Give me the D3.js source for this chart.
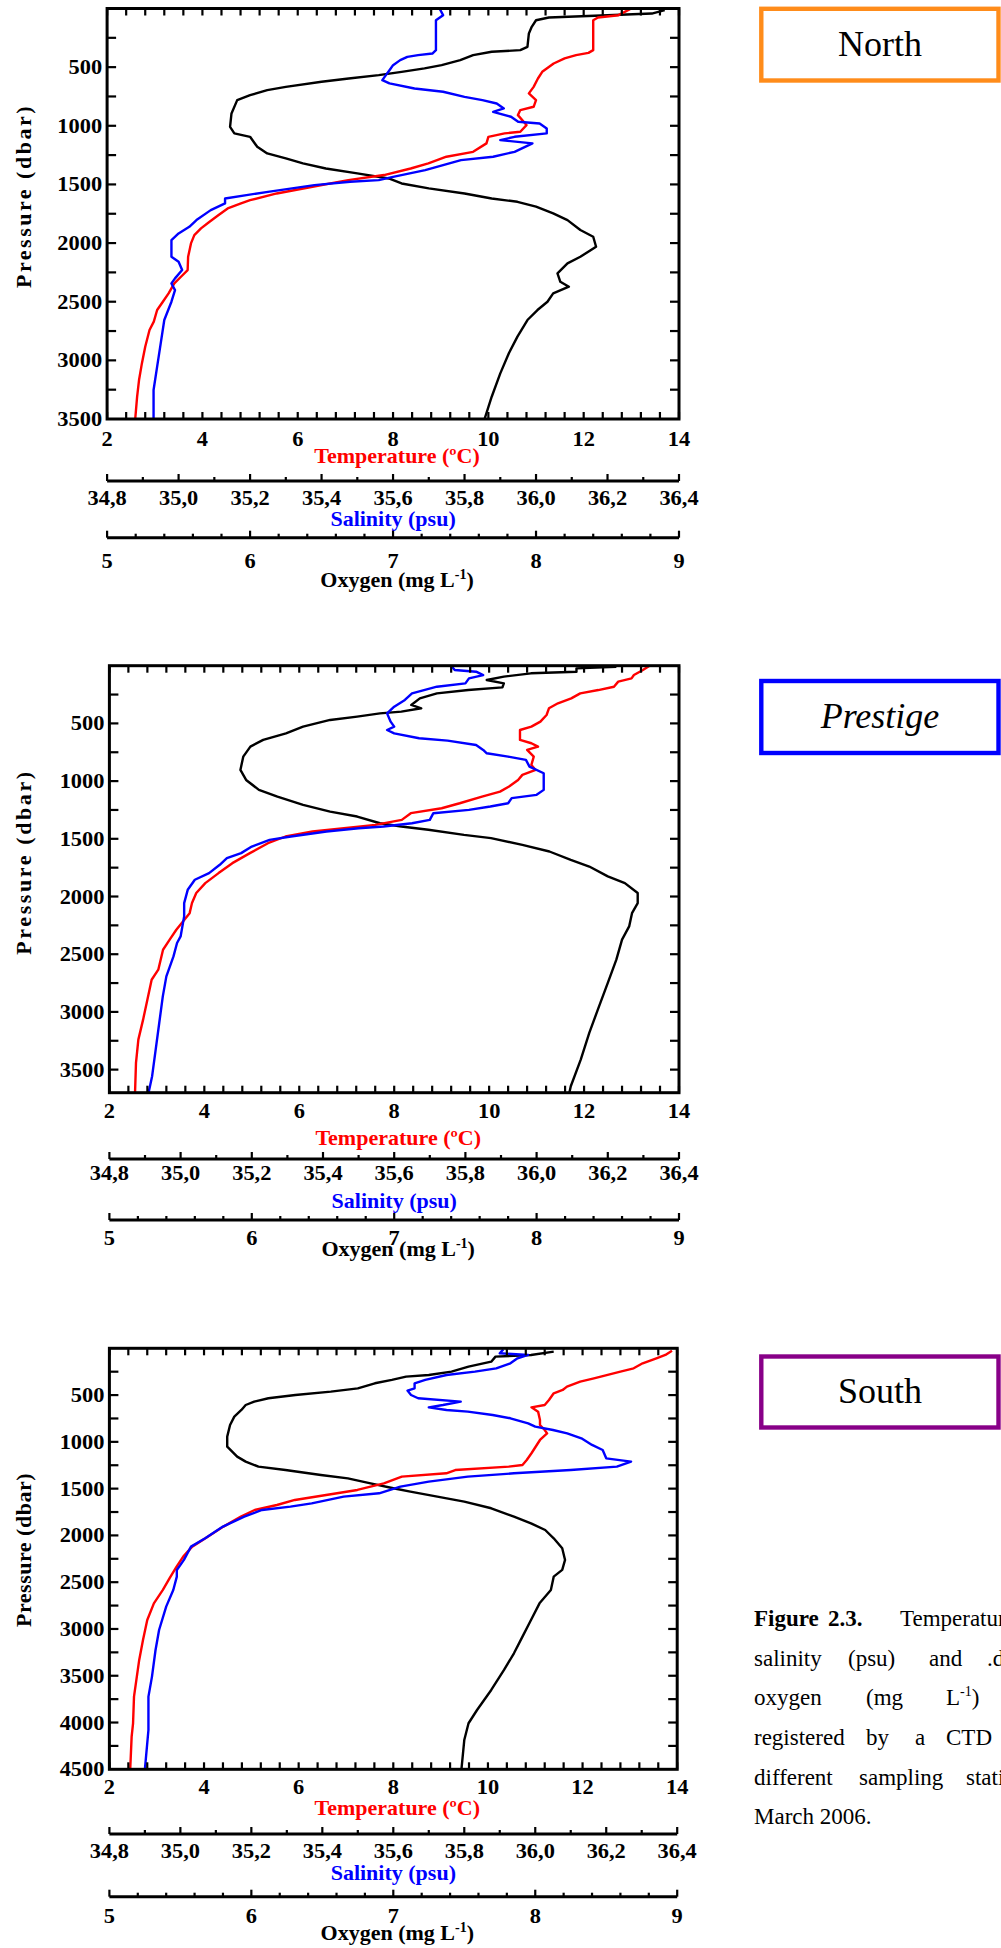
<!DOCTYPE html>
<html>
<head>
<meta charset="utf-8">
<script src="https://cdn.jsdelivr.net/npm/d3@7"></script>
<style>
  html, body { margin: 0; padding: 0; background: #fff; }
  svg { display: block; }
</style>
</head>
<body>
<svg id="fig" width="1001" height="1948"></svg>
<script>
// ---------- axis ticks and labels ----------
const tempTicks = [2, 4, 6, 8, 10, 12, 14];
const salTicks = [34.8, 35.0, 35.2, 35.4, 35.6, 35.8, 36.0, 36.2, 36.4];
const salTickLabels = ["34,8", "35,0", "35,2", "35,4", "35,6", "35,8", "36,0", "36,2", "36,4"];
const oxyTicks = [5, 6, 7, 8, 9];
const stationNames = ["North", "Prestige", "South"];
const stationColors = ["#ff8c1a", "#0000ff", "#880088"];
const pressureMax = [3500, 3700, 4500];
const pressureTicks = [
  [500, 1000, 1500, 2000, 2500, 3000, 3500],
  [500, 1000, 1500, 2000, 2500, 3000, 3500],
  [500, 1000, 1500, 2000, 2500, 3000, 3500, 4000, 4500]
];

// ---------- CTD profiles: [pressure (dbar), value] ----------
// North station
const northTemp = [[0,13.0],[57,12.73],[77,12.3],[100,12.2],[355,12.2],[378,12.1],[398,11.84],[426,11.6],[469,11.37],[540,11.13],[597,11.04],[668,10.95],[724,10.85],[781,11.0],[838,10.95],[866,10.67],[909,10.62],[994,10.8],[1051,10.67],[1065,10.34],[1094,10.0],[1150,9.96],[1222,9.68],[1264,9.12],[1321,8.74],[1364,8.37],[1420,7.81],[1463,7.06],[1520,6.31],[1577,5.56],[1634,5.0],[1662,4.81],[1705,4.53],[1761,4.34],[1818,4.15],[1875,3.97],[1932,3.83],[2003,3.76],[2117,3.7],[2230,3.69],[2287,3.55],[2344,3.41],[2429,3.29],[2500,3.17],[2571,3.05],[2670,2.98],[2741,2.89],[2884,2.8],[3026,2.73],[3168,2.67],[3310,2.63],[3500,2.59]];
const northSal = [[0,35.73],[57,35.74],[100,35.72],[355,35.72],[384,35.71],[398,35.67],[412,35.64],[440,35.62],[483,35.6],[526,35.59],[568,35.58],[611,35.57],[639,35.59],[682,35.66],[710,35.74],[753,35.8],[781,35.85],[810,35.89],[852,35.91],[881,35.88],[923,35.93],[966,35.95],[980,36.01],[1023,36.03],[1065,36.03],[1094,35.94],[1122,35.9],[1150,35.99],[1222,35.94],[1264,35.88],[1293,35.79],[1335,35.74],[1378,35.69],[1435,35.6],[1463,35.56],[1477,35.48],[1506,35.38],[1563,35.25],[1591,35.19],[1620,35.13],[1662,35.13],[1719,35.09],[1804,35.05],[1861,35.03],[1918,35.0],[1974,34.98],[2117,34.98],[2159,35.0],[2230,35.01],[2301,34.99],[2344,34.98],[2401,34.99],[2500,34.98],[2656,34.96],[2855,34.95],[3054,34.94],[3253,34.93],[3500,34.93]];
const northOxy = [[14,8.9],[43,8.81],[57,8.5],[77,8.09],[100,8.0],[156,7.97],[213,7.95],[327,7.94],[355,7.89],[369,7.69],[398,7.56],[440,7.47],[483,7.34],[511,7.22],[540,7.06],[568,6.9],[597,6.69],[625,6.5],[668,6.25],[696,6.12],[739,6.0],[781,5.91],[895,5.87],[1009,5.86],[1065,5.89],[1094,6.0],[1179,6.05],[1236,6.12],[1278,6.25],[1321,6.37],[1364,6.53],[1406,6.75],[1449,6.97],[1492,7.06],[1534,7.25],[1577,7.5],[1620,7.69],[1648,7.87],[1690,8.0],[1747,8.12],[1804,8.22],[1889,8.31],[1946,8.4],[2031,8.42],[2117,8.31],[2173,8.22],[2259,8.15],[2330,8.17],[2372,8.23],[2429,8.12],[2500,8.08],[2571,8.01],[2656,7.94],[2798,7.87],[2940,7.81],[3111,7.75],[3310,7.69],[3500,7.64]];

// Prestige station
const prestigeTemp = [[0,13.38],[37,13.24],[81,13.05],[110,13.0],[138,12.72],[182,12.63],[211,12.3],[240,11.92],[283,11.73],[326,11.45],[369,11.26],[427,11.21],[485,11.08],[528,10.89],[557,10.65],[643,10.65],[672,10.89],[701,11.03],[730,10.8],[788,10.94],[860,10.89],[903,10.98],[946,10.7],[990,10.61],[1047,10.42],[1091,10.23],[1134,9.85],[1192,9.38],[1235,9.0],[1278,8.35],[1336,8.16],[1379,7.6],[1408,6.94],[1437,6.28],[1480,5.71],[1538,5.34],[1624,4.96],[1711,4.59],[1797,4.3],[1884,4.02],[1970,3.83],[2057,3.74],[2144,3.69],[2216,3.55],[2288,3.41],[2374,3.27],[2461,3.13],[2634,3.03],[2721,2.89],[2894,2.8],[3067,2.71],[3240,2.61],[3442,2.56],[3700,2.54]];
const prestigeSal = [[0,35.76],[37,35.77],[52,35.83],[81,35.85],[110,35.81],[153,35.8],[182,35.72],[240,35.65],[297,35.63],[355,35.6],[413,35.58],[485,35.59],[528,35.6],[557,35.58],[586,35.6],[629,35.67],[649,35.75],[687,35.83],[730,35.85],[759,35.86],[788,35.92],[816,35.97],[874,35.98],[932,36.02],[1076,36.02],[1119,36.0],[1148,35.93],[1192,35.92],[1220,35.87],[1249,35.81],[1278,35.71],[1336,35.7],[1365,35.65],[1393,35.57],[1408,35.5],[1437,35.41],[1480,35.31],[1509,35.25],[1567,35.2],[1624,35.17],[1668,35.13],[1725,35.11],[1797,35.08],[1855,35.04],[1942,35.02],[2057,35.01],[2172,35.01],[2346,35.0],[2403,34.99],[2519,34.98],[2692,34.96],[2865,34.95],[3096,34.94],[3326,34.93],[3557,34.92],[3700,34.91]];
const prestigeOxy = [[9,8.56],[23,8.28],[52,8.28],[66,7.96],[95,7.77],[124,7.65],[153,7.77],[188,7.76],[211,7.52],[240,7.3],[283,7.18],[340,7.12],[369,7.19],[398,7.05],[413,6.9],[441,6.74],[470,6.55],[528,6.36],[586,6.24],[643,6.08],[701,5.99],[788,5.94],[903,5.92],[990,5.96],[1076,6.05],[1134,6.18],[1206,6.36],[1264,6.55],[1307,6.74],[1365,6.9],[1393,7.05],[1422,7.24],[1466,7.49],[1494,7.68],[1552,7.9],[1610,8.09],[1682,8.24],[1740,8.37],[1826,8.5],[1884,8.62],[1970,8.71],[2057,8.71],[2144,8.67],[2259,8.65],[2374,8.6],[2547,8.56],[2749,8.5],[2980,8.43],[3182,8.37],[3413,8.31],[3644,8.24],[3700,8.23]];

// South station
const southTemp = [[25,13.89],[71,13.75],[107,13.56],[160,13.27],[214,13.08],[249,12.8],[321,12.24],[356,11.95],[410,11.67],[445,11.58],[481,11.39],[552,11.29],[606,11.2],[631,10.92],[677,11.06],[766,11.1],[820,11.1],[873,11.2],[909,11.25],[980,11.1],[1122,10.92],[1194,10.82],[1247,10.73],[1265,10.44],[1301,9.31],[1336,9.12],[1372,8.18],[1443,7.8],[1514,7.24],[1568,6.58],[1621,5.92],[1675,5.54],[1728,5.07],[1799,4.78],[1906,4.41],[2031,4.03],[2120,3.75],[2227,3.56],[2334,3.42],[2459,3.27],[2583,3.13],[2726,2.94],[2904,2.8],[3118,2.71],[3331,2.63],[3545,2.57],[3723,2.52],[4008,2.5],[4151,2.47],[4500,2.44]];
const southSal = [[11,35.91],[53,35.9],[71,35.98],[107,35.95],[160,35.93],[214,35.89],[249,35.83],[285,35.75],[338,35.69],[374,35.66],[428,35.66],[452,35.64],[499,35.65],[534,35.67],[570,35.79],[606,35.74],[631,35.7],[659,35.75],[677,35.81],[713,35.88],[748,35.93],[802,35.98],[837,36.0],[873,36.05],[909,36.09],[962,36.13],[1033,36.16],[1087,36.19],[1176,36.2],[1211,36.27],[1265,36.23],[1301,36.1],[1336,35.94],[1372,35.81],[1425,35.7],[1479,35.62],[1550,35.56],[1586,35.46],[1657,35.37],[1692,35.31],[1728,35.23],[1799,35.18],[1906,35.12],[2031,35.07],[2120,35.03],[2262,35.01],[2369,34.99],[2441,34.99],[2583,34.98],[2761,34.96],[3011,34.94],[3225,34.93],[3509,34.92],[3723,34.91],[4080,34.91],[4500,34.9]];
const southOxy = [[36,8.13],[71,7.97],[89,7.72],[143,7.69],[196,7.53],[249,7.41],[285,7.25],[303,7.09],[338,6.99],[374,6.87],[428,6.75],[463,6.56],[499,6.31],[534,6.12],[570,6.02],[606,5.96],[659,5.93],[730,5.88],[820,5.85],[944,5.83],[1051,5.83],[1158,5.9],[1211,5.96],[1265,6.05],[1301,6.24],[1354,6.49],[1390,6.68],[1443,6.84],[1496,7.0],[1532,7.12],[1586,7.31],[1639,7.5],[1710,7.69],[1799,7.85],[1871,7.97],[1942,8.07],[2031,8.13],[2138,8.19],[2262,8.21],[2369,8.19],[2441,8.13],[2583,8.11],[2726,8.03],[2904,7.97],[3082,7.91],[3260,7.85],[3438,7.78],[3652,7.69],[3866,7.59],[4008,7.53],[4187,7.5],[4500,7.48]];

const profiles = [
  { temp: northTemp, sal: northSal, oxy: northOxy },
  { temp: prestigeTemp, sal: prestigeSal, oxy: prestigeOxy },
  { temp: southTemp, sal: southSal, oxy: southOxy }
];

// ---------- page layout of the three panels ----------
const panels = [
  { L: 107.1, R: 679,   T: 8.5,    B: 419,    tTick: 446,    tLab: 462.7, sAx: 481,   sTick: 505,  sLab: 526,  oAx: 537.7,  oTick: 568,    oLab: 586.5,  yLabY: 196,  ySpacing: 2.5, box: [8.8, 80.5],      boxText: 56 },
  { L: 109.4, R: 679,   T: 665.7,  B: 1092.7, tTick: 1118,   tLab: 1145,  sAx: 1159,  sTick: 1180, sLab: 1208, oAx: 1220,   oTick: 1244.5, oLab: 1255.5, yLabY: 862,  ySpacing: 2.6, box: [681, 753],       boxText: 728 },
  { L: 109.4, R: 677.2, T: 1348.3, B: 1769.3, tTick: 1793.5, tLab: 1815,  sAx: 1834,  sTick: 1858, sLab: 1880, oAx: 1896.7, oTick: 1923,   oLab: 1940,   yLabY: 1550, ySpacing: 0.5, box: [1356.5, 1427.5], boxText: 1403 }
];

const SERIF = "'Liberation Serif','Times New Roman',Times,serif";
const svg = d3.select("#fig");

// text helper: allows the wide bold look of the axis lettering
function label(g, x, y, txt, o) {
  const t = g.append("text")
    .attr("transform", `translate(${x},${y}) scale(${o.sx ?? 1},1)`)
    .attr("text-anchor", o.anchor ?? "middle")
    .attr("font-family", SERIF)
    .attr("font-weight", o.weight ?? "bold")
    .attr("font-style", o.style ?? "normal")
    .attr("font-size", o.size)
    .attr("fill", o.fill ?? "#000");
  if (o.dy) t.attr("dy", o.dy);
  t.text(txt);
  return t;
}

const TICK_FONT = 20, TICK_SX = 1.12;

panels.forEach((pn, i) => {
  const g = svg.append("g");
  const tx = d3.scaleLinear().domain([2, 14]).range([pn.L, pn.R]);
  const sx = d3.scaleLinear().domain([34.8, 36.4]).range([pn.L, pn.R]);
  const ox = d3.scaleLinear().domain([5, 9]).range([pn.L, pn.R]);
  const y = d3.scaleLinear().domain([0, pressureMax[i]]).range([pn.T, pn.B]);

  // clip profiles to the plotting frame
  const clipId = "clip" + i;
  svg.append("clipPath").attr("id", clipId)
    .append("rect").attr("x", pn.L).attr("y", pn.T)
    .attr("width", pn.R - pn.L).attr("height", pn.B - pn.T);

  const plot = g.append("g").attr("clip-path", `url(#${clipId})`);
  const mkLine = xs => d3.line().x(d => xs(d[1])).y(d => y(d[0]));
  const series = [
    { data: profiles[i].oxy, xs: ox, color: "#000000" },
    { data: profiles[i].temp, xs: tx, color: "#ff0000" },
    { data: profiles[i].sal, xs: sx, color: "#0000ff" }
  ];
  series.forEach(s => {
    plot.append("path")
      .attr("d", mkLine(s.xs)(s.data))
      .attr("fill", "none")
      .attr("stroke", s.color)
      .attr("stroke-width", 2.4)
      .attr("stroke-linejoin", "round");
  });

  // frame
  g.append("rect")
    .attr("x", pn.L).attr("y", pn.T)
    .attr("width", pn.R - pn.L).attr("height", pn.B - pn.T)
    .attr("fill", "none").attr("stroke", "#000").attr("stroke-width", 3);

  // inward ticks on the frame: temperature every 0.4 °C, pressure every 250 dbar
  const tMinor = d3.range(0, 31).map(k => 2 + k * 0.4);
  const pMinor = d3.range(250, pressureMax[i], 250);
  const tk = g.append("g").attr("stroke", "#000").attr("stroke-width", 2.2);
  tMinor.forEach(v => {
    const xx = tx(v);
    tk.append("line").attr("x1", xx).attr("x2", xx).attr("y1", pn.B).attr("y2", pn.B - 7);
    tk.append("line").attr("x1", xx).attr("x2", xx).attr("y1", pn.T).attr("y2", pn.T + 7);
  });
  pMinor.forEach(v => {
    const yy = y(v);
    tk.append("line").attr("x1", pn.L).attr("x2", pn.L + 9).attr("y1", yy).attr("y2", yy);
    tk.append("line").attr("x1", pn.R).attr("x2", pn.R - 9).attr("y1", yy).attr("y2", yy);
  });

  // pressure tick labels
  pressureTicks[i].forEach(v => {
    label(g, pn.L - 5, y(v), String(v), { size: TICK_FONT, sx: TICK_SX, anchor: "end", dy: "0.35em" });
  });
  // pressure title
  label(g, 0, 0, "Pressure (dbar)", { size: 22 })
    .attr("transform", `translate(31,${pn.yLabY}) rotate(-90)`)
    .attr("letter-spacing", pn.ySpacing);

  const mid = (pn.L + pn.R) / 2;

  // temperature scale (frame bottom)
  tempTicks.forEach(v => label(g, tx(v), pn.tTick, String(v), { size: TICK_FONT, sx: TICK_SX }));
  label(g, mid + 4, pn.tLab, "Temperature (ºC)", { size: 22, fill: "#ff0000" });

  // salinity scale
  g.append("line").attr("x1", pn.L).attr("x2", pn.R).attr("y1", pn.sAx).attr("y2", pn.sAx)
    .attr("stroke", "#000").attr("stroke-width", 3);
  d3.range(0, 17).forEach(k => {
    const xx = sx(34.8 + k * 0.1);
    g.append("line").attr("x1", xx).attr("x2", xx)
      .attr("y1", pn.sAx).attr("y2", pn.sAx - (k % 2 === 0 ? 7 : 4))
      .attr("stroke", "#000").attr("stroke-width", 2.2);
  });
  salTicks.forEach((v, k) => label(g, sx(v), pn.sTick, salTickLabels[k], { size: TICK_FONT, sx: TICK_SX }));
  label(g, mid, pn.sLab, "Salinity (psu)", { size: 22, fill: "#0000ff" });

  // oxygen scale
  g.append("line").attr("x1", pn.L).attr("x2", pn.R).attr("y1", pn.oAx).attr("y2", pn.oAx)
    .attr("stroke", "#000").attr("stroke-width", 3);
  d3.range(0, 21).forEach(k => {
    const xx = ox(5 + k * 0.2);
    g.append("line").attr("x1", xx).attr("x2", xx)
      .attr("y1", pn.oAx).attr("y2", pn.oAx - (k % 5 === 0 ? 7 : 4))
      .attr("stroke", "#000").attr("stroke-width", 2.2);
  });
  oxyTicks.forEach(v => label(g, ox(v), pn.oTick, String(v), { size: TICK_FONT, sx: TICK_SX }));
  const ot = label(g, mid + 4, pn.oLab, "Oxygen (mg L", { size: 22 });
  ot.append("tspan").attr("dy", -8).attr("font-size", 14).text("-1");
  ot.append("tspan").attr("dy", 8).attr("font-size", 22).text(")");

  // station box
  svg.append("rect")
    .attr("x", 761.3).attr("y", pn.box[0])
    .attr("width", 998.5 - 761.3).attr("height", pn.box[1] - pn.box[0])
    .attr("fill", "#fff").attr("stroke", stationColors[i]).attr("stroke-width", 4.4);
  label(svg, 880, pn.boxText, stationNames[i], {
    size: 36, weight: "normal", style: i === 1 ? "italic" : "normal"
  });
});

// ---------- caption ----------
const captionLines = [
  { y: 1626, words: [["Figure", 754, true], ["2.3.", 828, true], ["Temperature", 900]] },
  { y: 1666, words: [["salinity", 754], ["(psu)", 848], ["and", 929], [".dissolved", 987]] },
  { y: 1705, words: [["oxygen", 754], ["(mg", 866], ["L", 946, false, true]] },
  { y: 1745, words: [["registered", 754], ["by", 866], ["a", 915], ["CTD", 946]] },
  { y: 1785, words: [["different", 754], ["sampling", 859], ["stations", 966]] },
  { y: 1824, words: [["March 2006.", 754]] }
];
captionLines.forEach(line => {
  line.words.forEach(([w, x, bold, sup]) => {
    const t = svg.append("text")
      .attr("x", x).attr("y", line.y)
      .attr("font-family", SERIF)
      .attr("font-size", 23)
      .attr("font-weight", bold ? "bold" : "normal")
      .attr("fill", "#000")
      .text(w);
    if (sup) {
      t.append("tspan").attr("dy", -9).attr("font-size", 14).text("-1");
      t.append("tspan").attr("dy", 9).attr("font-size", 23).text(")");
    }
  });
});
</script>
</body>
</html>
